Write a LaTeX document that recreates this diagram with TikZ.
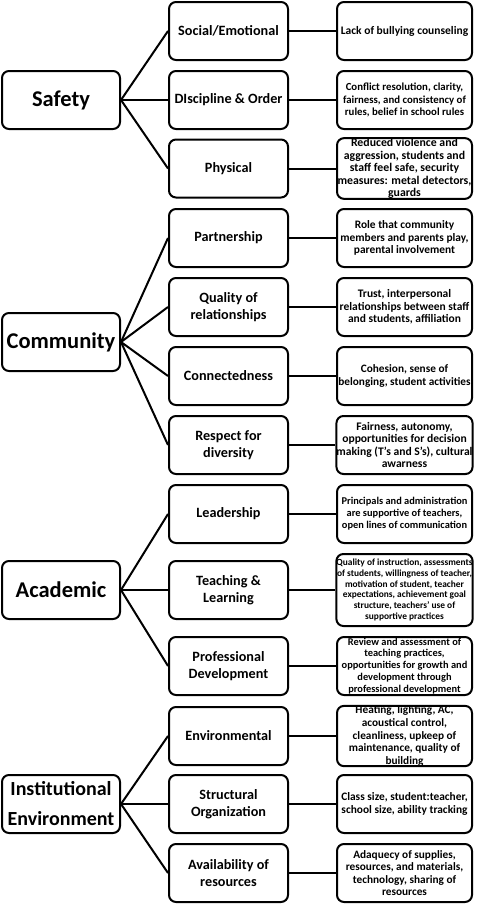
\documentclass[tikz,border=0pt]{standalone}
\usepackage{fontspec}
\setmainfont{Carlito}
\usetikzlibrary{positioning}

\tikzset{
  box/.style={draw, line width=2pt, rounded corners=7pt, align=center, inner sep=0pt},
  areabox/.style={box, minimum width=118pt, minimum height=58pt,
    font=\bfseries\fontsize{22.5}{29}\selectfont},
  dimbox/.style={box, minimum width=119pt, minimum height=58pt,
    font=\bfseries\fontsize{14.2}{16.7}\selectfont},
  notebox/.style={box, minimum width=135pt, minimum height=58pt},
  densenote/.style={notebox, minimum height=72pt},
  link/.style={line width=2pt},
}

\begin{document}
\begin{tikzpicture}[x=1pt,y=-1pt]
  \useasboundingbox (0,0) rectangle (483,905);
  % climate areas
  \node[areabox] (safety) at (61,100) {Safety};
  \node[areabox] (community) at (61,342) {Community};
  \node[areabox] (academic) at (61,590) {Academic};
  \node[areabox, font=\bfseries\fontsize{20}{30}\selectfont] (institution) at (61,804) {Institutional\\Environment};
  % dimensions and what they cover
  \foreach \i/\y/\area/\dim/\note/\fs/\kind in {
    1/31/safety/{Social/Emotional}/{Lack of bullying counseling}/11.5/notebox,
    2/100/safety/{DIscipline \& Order}/{Conflict resolution, clarity,\\fairness, and consistency of\\rules, belief in school rules}/10.8/notebox,
    3/168.5/safety/{Physical}/{Reduced violence and\\aggression, students and\\staff feel safe, security\\measures: metal detectors,\\guards}/11.8/notebox,
    4/238/community/{Partnership}/{Role that community\\members and parents play,\\parental involvement}/11.4/notebox,
    5/307/community/{Quality of\\relationships}/{Trust, interpersonal\\relationships between staff\\and students, affiliation}/11.5/notebox,
    6/376/community/{Connectedness}/{Cohesion, sense of\\belonging, student activities}/11.3/notebox,
    7/445/community/{Respect for\\diversity}/{Fairness, autonomy,\\opportunities for decision\\making (T's and S's), cultural\\awarness}/11.6/notebox,
    8/514/academic/{Leadership}/{Principals and administration\\are supportive of teachers,\\open lines of communication}/10.4/notebox,
    9/590/academic/{Teaching \&\\Learning}/{Quality of instruction, assessments\\of students, willingness of teacher,\\motivation of student, teacher\\expectations, achievement goal\\structure, teachers' use of\\supportive practices}/9.4/densenote,
    10/666/academic/{Professional\\Development}/{Review and assessment of\\teaching practices,\\opportunities for growth and\\development through\\professional development}/10.4/notebox,
    11/736/institution/{Environmental}/{Heating, lighting, AC,\\acoustical control,\\cleanliness, upkeep of\\maintenance, quality of\\building}/11.3/notebox,
    12/804/institution/{Structural\\Organization}/{Class size, student:teacher,\\school size, ability tracking}/11.4/notebox,
    13/873/institution/{Availability of\\resources}/{Adaquecy of supplies,\\resources, and materials,\\technology, sharing of\\resources}/11.3/notebox%
  } {
    \pgfmathsetmacro{\bs}{min(12.6,1.14*\fs)}
    \node[dimbox] (dim\i) at (228.5,\y) {\dim};
    \node[\kind, font=\bfseries\fontsize{\fs}{\bs}\selectfont] (note\i) at (404.5,\y) {\note};
    \draw[link] (\area.east) -- (dim\i.west);
    \draw[link] (dim\i.east) -- (note\i.west);
  }
\end{tikzpicture}
\end{document}
